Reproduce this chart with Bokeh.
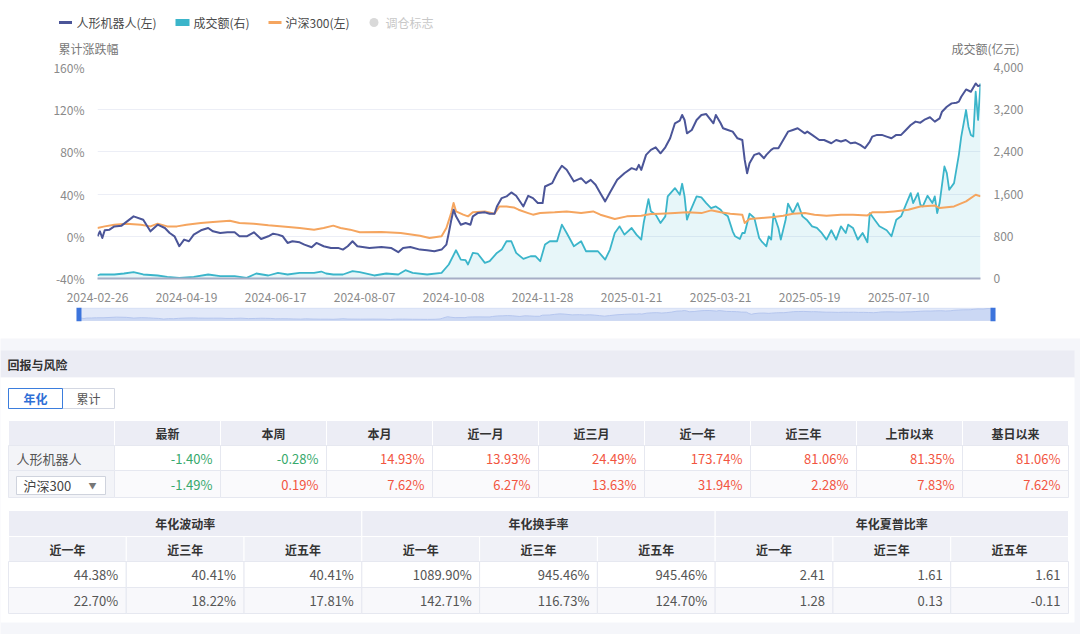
from bokeh.plotting import figure
from bokeh.models import Range1d, LinearAxis, FixedTicker, PrintfTickFormatter, NumeralTickFormatter
from bokeh.layouts import column
from bokeh.embed import file_html
from bokeh.resources import INLINE
from bokeh.core.properties import value

FONT = "Noto Sans CJK SC"
W = 1080

# ---------------- data ----------------
n_days = 368  # trading days on the category axis
tick_idx = [0, 37, 74, 111, 148, 185, 222, 259, 296, 333]
tick_labels = ["2024-02-26", "2024-04-19", "2024-06-17", "2024-08-07", "2024-10-08",
               "2024-11-28", "2025-01-21", "2025-03-21", "2025-05-19", "2025-07-10"]

robot_idx = [0, 1, 2, 3, 5, 7, 10, 15, 19, 22, 25, 28, 30, 32, 34, 36, 38, 40, 43, 46, 48, 51, 54, 57, 59,
             62, 65, 68, 71, 73, 75, 77, 79, 81, 84, 86, 89, 91, 94, 97, 100, 102, 104, 106, 108, 113, 118,
             122, 125, 127, 130, 134, 137, 140, 143, 145, 146, 147, 148, 149, 151, 153, 155, 156, 158, 161,
             163, 165, 166, 168, 170, 172, 174, 177, 179, 181, 183, 185, 186, 189, 191, 193, 195, 198, 201,
             203, 205, 207, 209, 211, 213, 216, 219, 222, 224, 225, 226, 228, 230, 232, 234, 236, 238, 240,
             242, 243, 244, 245, 247, 249, 251, 253, 256, 257, 259, 260, 262, 264, 266, 268, 269, 270, 271,
             273, 275, 277, 278, 280, 281, 283, 285, 287, 289, 291, 294, 295, 297, 300, 302, 305, 307, 309,
             311, 313, 315, 317, 319, 321, 322, 324, 326, 328, 330, 332, 334, 336, 338, 340, 342, 344, 346,
             348, 350, 351, 353, 355, 357, 358, 359, 361, 363, 365, 366, 367]
robot_pct = [0.0, 4.7, -1.6, 5.7, 6.3, 9.4, 10.1, 18.9, 15.7, 4.7, 11.0, 7.9, 3.1, 0.0, -9.4, -3.1, -4.7, 1.6,
             5.7, 7.9, 4.7, 3.1, 3.8, 3.8, 0.0, 0.0, 3.8, -2.5, 0.0, 2.5, 1.6, 0.0, -6.3, -4.7, -5.7, -7.9,
             -10.4, -6.3, -9.4, -11.0, -11.0, -12.6, -9.4, -4.7, -9.4, -11.0, -10.1, -11.0, -15.1, -11.0,
             -10.1, -12.6, -13.2, -14.2, -12.6, -7.9, 3.1, 15.0, 25.2, 18.9, 11.0, 12.6, 11.0, 18.9, 22.0,
             22.7, 21.4, 21.4, 28.3, 36.2, 37.8, 41.6, 38.4, 28.3, 38.4, 36.2, 31.5, 31.5, 47.2, 50.4, 59.8,
             66.8, 63.0, 52.0, 55.1, 50.4, 53.5, 48.8, 40.9, 33.1, 41.6, 53.5, 59.8, 64.6, 63.0, 67.7, 63.0,
             77.2, 81.9, 84.4, 78.7, 84.4, 92.9, 107.1, 109.6, 115.0, 110.2, 97.6, 100.8, 110.2, 115.0,
             115.9, 107.1, 115.0, 107.1, 102.4, 100.8, 99.2, 92.9, 91.3, 72.4, 59.8, 69.3, 77.2, 78.7, 74.0,
             77.2, 81.9, 83.5, 83.5, 91.3, 99.2, 100.8, 102.4, 97.6, 99.2, 96.1, 91.3, 91.3, 88.2, 91.3,
             89.8, 91.3, 88.2, 88.8, 86.6, 83.5, 89.8, 94.5, 96.1, 96.1, 94.5, 92.9, 96.1, 96.1, 100.8,
             105.5, 108.7, 107.7, 110.9, 112.8, 108.7, 111.8, 118.1, 122.8, 126.0, 126.6, 127.6, 132.3,
             139.2, 137.0, 144.9, 142.4, 143.3]

csi_idx = [0, 3, 7, 12, 18, 22, 25, 29, 33, 37, 43, 48, 55, 59, 65, 71, 77, 84, 90, 94, 98, 101, 105, 109,
           118, 126, 134, 138, 143, 145, 147, 148, 149, 152, 154, 156, 161, 165, 167, 170, 173, 175, 179,
           181, 184, 190, 195, 201, 206, 209, 215, 220, 226, 230, 234, 240, 245, 251, 255, 259, 263, 268,
           269, 271, 276, 281, 285, 289, 294, 298, 303, 309, 314, 320, 322, 327, 331, 337, 342, 348, 350,
           356, 361, 365, 367]
csi_pct = [7.9, 9.4, 11.0, 12.0, 11.0, 9.4, 12.0, 9.4, 9.4, 11.0, 12.6, 13.5, 14.8, 12.6, 12.0, 10.4, 9.4,
           7.9, 6.3, 7.9, 10.1, 7.9, 6.3, 3.8, 4.1, 3.1, 0.6, -1.6, 0.0, 7.9, 22.0, 31.5, 23.6, 20.5, 18.9,
           22.7, 23.6, 21.4, 28.3, 28.3, 27.4, 25.2, 22.0, 20.5, 22.0, 22.7, 23.6, 22.0, 23.6, 20.5, 16.4,
           18.9, 19.5, 21.1, 21.4, 22.0, 22.7, 22.0, 24.6, 22.7, 21.4, 20.5, 12.6, 16.4, 17.3, 18.3, 19.5,
           21.4, 22.0, 20.5, 19.5, 20.5, 20.5, 19.8, 22.7, 22.7, 23.6, 25.2, 28.3, 29.3, 26.8, 28.3, 33.1,
           39.4, 37.8]

amt_idx = [0, 1, 7, 11, 15, 19, 25, 29, 34, 40, 46, 51, 57, 62, 66, 71, 75, 79, 84, 90, 93, 95, 98, 102,
           106, 109, 115, 120, 125, 128, 131, 137, 143, 146, 149, 151, 153, 154, 156, 158, 161, 163, 166,
           168, 170, 172, 174, 177, 180, 182, 184, 186, 188, 191, 193, 195, 198, 201, 203, 208, 211, 213,
           215, 217, 219, 222, 224, 226, 227, 229, 230, 232, 234, 236, 237, 240, 242, 243, 244, 245, 246,
           249, 251, 253, 255, 257, 259, 260, 262, 264, 265, 267, 268, 269, 271, 273, 275, 276, 278, 279,
           280, 281, 283, 284, 286, 287, 289, 291, 293, 295, 297, 299, 301, 303, 305, 307, 309, 311, 312,
           314, 316, 318, 320, 321, 323, 325, 328, 330, 332, 334, 336, 338, 339, 341, 342, 343, 345, 347,
           348, 349, 350, 352, 353, 354, 356, 358, 359, 361, 362, 363, 364, 365, 366, 367]
amt_val = [57, 76, 76, 95, 120, 76, 57, 32, 13, 32, 76, 44, 44, 13, 95, 57, 107, 76, 107, 107, 132, 95, 76,
           76, 139, 120, 57, 95, 76, 158, 107, 76, 107, 265, 536, 359, 347, 265, 485, 473, 296, 328, 485,
           548, 706, 706, 485, 372, 422, 422, 328, 643, 706, 706, 1021, 863, 611, 706, 517, 517, 359, 548,
           863, 989, 832, 958, 832, 737, 1052, 1506, 1273, 1210, 1052, 1178, 1556, 1714, 1588, 1796, 1556,
           1115, 1241, 1556, 1537, 1430, 1336, 1367, 1304, 1241, 1178, 895, 800, 750, 863, 863, 1229, 1147,
           769, 706, 611, 800, 737, 1229, 958, 737, 1115, 1418, 1241, 1430, 1178, 1103, 989, 958, 863, 737,
           914, 737, 989, 863, 1021, 958, 737, 863, 687, 1241, 1115, 989, 914, 800, 1115, 1178, 1399, 1619,
           1430, 1619, 1399, 1367, 1569, 1430, 1556, 1241, 1430, 2123, 1997, 1682, 1808, 2344, 2690, 3194,
           2879, 2722, 2690, 3541, 3005, 3698]

legend_labels = ["人形机器人(左)", "成交额(右)", "沪深300(左)", "调仓标志"]

t1_cols = ["最新", "本周", "本月", "近一月", "近三月", "近一年", "近三年", "上市以来", "基日以来"]
t1_row_names = ["人形机器人", "沪深300"]
t1_robot = [-1.40, -0.28, 14.93, 13.93, 24.49, 173.74, 81.06, 81.35, 81.06]
t1_csi = [-1.49, 0.19, 7.62, 6.27, 13.63, 31.94, 2.28, 7.83, 7.62]

t2_groups = ["年化波动率", "年化换手率", "年化夏普比率"]
t2_periods = ["近一年", "近三年", "近五年"]
t2_robot = [44.38, 40.41, 40.41, 1089.90, 945.46, 945.46, 2.41, 1.61, 1.61]
t2_csi = [22.70, 18.22, 17.81, 142.71, 116.73, 124.70, 1.28, 0.13, -0.11]

# ---------------- styles ----------------
C_ROBOT = "#4b5598"
C_AMT = "#3bb5ca"
C_CSI = "#f5a55f"
C_AXIS_TXT = "#8a8a8a"
C_RED = "#f2553f"
C_GREEN = "#36a96c"
PAGE_BG = "#f5f6fa"


def blank(height, y_top, y_bottom):
    f = figure(width=W, height=height, x_range=Range1d(0, W), y_range=Range1d(y_bottom, y_top),
               x_axis_type=None, y_axis_type=None, toolbar_location=None, output_backend="svg",
               min_border=0, outline_line_color=None, frame_align=False)
    return f


def txt(f, xs, ys, texts, size="12px", color="#333333", align="left", bold=False):
    f.text(x=xs, y=ys, text=texts, text_font=value(FONT), text_font_size=size, text_color=color,
           text_align=align, text_baseline="middle", text_font_style="bold" if bold else "normal")


# ---------------- header strip (legend + axis titles) ----------------
head = blank(57, 0, 57)
LY = 22
head.segment(x0=[58.5], y0=[LY], x1=[71.5], y1=[LY], line_color=C_ROBOT, line_width=3)
head.quad(left=[175], right=[189], top=[LY - 3.5], bottom=[LY + 3.5], fill_color=C_AMT, line_color=None)
head.segment(x0=[268], y0=[LY], x1=[281], y1=[LY], line_color=C_CSI, line_width=3)
head.scatter(x=[373.5], y=[LY], size=9, fill_color="#d9d9d9", line_color=None)
txt(head, [76, 193, 285], [LY] * 3, legend_labels[:3], color="#4a4a4a")
txt(head, [385], [LY], legend_labels[3:], color="#c8c8c8")
txt(head, [58], [48], ["累计涨跌幅"], color="#777777")
txt(head, [1019], [48], ["成交额(亿元)"], color="#777777", align="right")

# ---------------- main chart ----------------
p = figure(width=W, height=247, x_range=Range1d(0, n_days - 1), y_range=Range1d(-40, 160),
           toolbar_location=None, output_backend="svg", min_border_left=97, min_border_right=100,
           min_border_top=10, min_border_bottom=26, outline_line_color=None, frame_align=False)
p.extra_y_ranges = {"amt": Range1d(0, 4000)}

p.varea(x=amt_idx, y1=[0] * len(amt_idx), y2=amt_val, y_range_name="amt",
        fill_color=C_AMT, fill_alpha=0.12)
p.line(amt_idx, amt_val, y_range_name="amt", line_color=C_AMT, line_width=1.8, line_join="round")
p.line(csi_idx, csi_pct, line_color=C_CSI, line_width=2, line_join="round")
p.line(robot_idx, robot_pct, line_color=C_ROBOT, line_width=2, line_join="round")

yl = p.yaxis[0]
yl.ticker = FixedTicker(ticks=[-40, 0, 40, 80, 120, 160])
yl.formatter = PrintfTickFormatter(format="%d%%")

yr = LinearAxis(y_range_name="amt", ticker=FixedTicker(ticks=[0, 800, 1600, 2400, 3200, 4000]),
                formatter=NumeralTickFormatter(format="0,0"))
p.add_layout(yr, "right")

for ax in (yl, yr):
    ax.axis_line_color = None
    ax.major_tick_line_color = None
    ax.minor_tick_line_color = None
    ax.major_label_text_color = C_AXIS_TXT
    ax.major_label_text_font = FONT
    ax.major_label_text_font_size = "12px"
    ax.major_label_standoff = 7

xa = p.xaxis[0]
xa.ticker = FixedTicker(ticks=tick_idx)
xa.major_label_overrides = {i: lab for i, lab in zip(tick_idx, tick_labels)}
xa.axis_line_color = "#a6aec6"
xa.axis_line_width = 2
xa.major_tick_line_color = None
xa.minor_tick_line_color = None
xa.major_label_text_color = C_AXIS_TXT
xa.major_label_text_font = FONT
xa.major_label_text_font_size = "12px"
xa.major_label_standoff = 8

p.xgrid.grid_line_color = None
p.ygrid.grid_line_color = "#eceef6"
p.ygrid.grid_line_width = 1

# ---------------- data-zoom navigator ----------------
sl = figure(width=W, height=34, x_range=Range1d(-2.2, 369.6), y_range=Range1d(-45, 160),
            x_axis_type=None, y_axis_type=None, toolbar_location=None, output_backend="svg",
            min_border_left=73, min_border_right=81, min_border_top=3, min_border_bottom=17,
            outline_line_color=None, frame_align=False)
sl.quad(left=[0], right=[n_days - 1], bottom=[-30], top=[150], fill_color="#e2e9f9", line_color="#d2dcf3")
sl.varea(x=robot_idx, y1=[-30] * len(robot_idx), y2=robot_pct, fill_color="#cbd8f4")
sl.line(robot_idx, robot_pct, line_color="#b5c6ee", line_width=1)
sl.rect(x=[0, n_days - 1], y=[57.5, 57.5], width=5, height=14, width_units="screen",
        height_units="screen", fill_color="#3c74dc", line_color=None)

# ---------------- return & risk tables ----------------
tab = blank(296, 338, 634)
tab.background_fill_color = PAGE_BG
tab.quad(left=[0, 0], right=[1074, 1074], top=[350, 377], bottom=[377, 622],
         fill_color=["#ebecf4", "white"], line_color=None)
txt(tab, [7], [364], ["回报与风险"], size="12px", color="#333333", bold=True)

# toggle buttons
tab.quad(left=[62], right=[114], top=[388], bottom=[408], fill_color="white", line_color="#d3d7e2")
tab.quad(left=[8], right=[62], top=[388], bottom=[408], fill_color="white", line_color="#3b7ddd")
txt(tab, [35], [398], ["年化"], color="#2f6fd6", align="center", bold=True)
txt(tab, [88], [398], ["累计"], color="#555555", align="center")

# table 1
T1_X = [8] + [114 + 106 * k for k in range(10)]
T1_Y = [420, 445, 470, 497]
HDR_BG = "#ecedf5"
tab.quad(left=T1_X[:-1], right=T1_X[1:], top=[T1_Y[0]] * 10, bottom=[T1_Y[1]] * 10,
         fill_color=HDR_BG, line_color="white")
txt(tab, [(T1_X[k + 1] + T1_X[k + 2]) / 2 for k in range(9)], [432.5] * 9, t1_cols,
    align="center", bold=True, color="#333333")
for r, vals in enumerate([t1_robot, t1_csi]):
    top, bot = T1_Y[r + 1], T1_Y[r + 2]
    row_bg = "white" if r == 0 else "#fafafc"
    tab.quad(left=[T1_X[0]], right=[T1_X[1]], top=[top], bottom=[bot], fill_color="#f3f4f8",
             line_color="#e6e8f0")
    tab.quad(left=T1_X[1:-1], right=T1_X[2:], top=[top] * 9, bottom=[bot] * 9, fill_color=row_bg,
             line_color="#e6e8f0")
    cy = (top + bot) / 2
    txt(tab, [T1_X[k + 2] - 8 for k in range(9)], [cy] * 9, ["%.2f%%" % v for v in vals],
        size="13px", color=[C_GREEN if v < 0 else C_RED for v in vals], align="right")
txt(tab, [16], [(T1_Y[1] + T1_Y[2]) / 2], [t1_row_names[0]], size="13px", color="#555555")
tab.quad(left=[16], right=[105], top=[476], bottom=[494], fill_color="white", line_color="#cfd3dd")
txt(tab, [23], [485], [t1_row_names[1]], size="13px", color="#444444")
txt(tab, [92], [485], ["▼"], size="8px", color="#777777", align="center")

# table 2
T2_X = [8 + (1068 - 8) / 9 * k for k in range(10)]
T2_Y = [510, 536, 561, 587, 613]
tab.quad(left=[T2_X[0], T2_X[3], T2_X[6]], right=[T2_X[3], T2_X[6], T2_X[9]], top=[T2_Y[0]] * 3,
         bottom=[T2_Y[1]] * 3, fill_color=HDR_BG, line_color="white")
txt(tab, [(T2_X[3 * g] + T2_X[3 * g + 3]) / 2 for g in range(3)], [523] * 3, t2_groups,
    align="center", bold=True)
tab.quad(left=T2_X[:-1], right=T2_X[1:], top=[T2_Y[1]] * 9, bottom=[T2_Y[2]] * 9,
         fill_color="#f0f1f7", line_color="white")
txt(tab, [(T2_X[k] + T2_X[k + 1]) / 2 for k in range(9)], [548.5] * 9, t2_periods * 3,
    align="center", bold=True)
for r, vals in enumerate([t2_robot, t2_csi]):
    top, bot = T2_Y[r + 2], T2_Y[r + 3]
    row_bg = "white" if r == 0 else "#f8f8fb"
    tab.quad(left=T2_X[:-1], right=T2_X[1:], top=[top] * 9, bottom=[bot] * 9, fill_color=row_bg,
             line_color="#e6e8f0")
    labels = ["%.2f%%" % v for v in vals[:6]] + ["%.2f" % v for v in vals[6:]]
    txt(tab, [T2_X[k + 1] - 8 for k in range(9)], [(top + bot) / 2] * 9, labels, size="13px",
        color="#555555", align="right")

layout = column(head, p, sl, tab, spacing=0)
open("out.html", "w").write(file_html(layout, INLINE))
